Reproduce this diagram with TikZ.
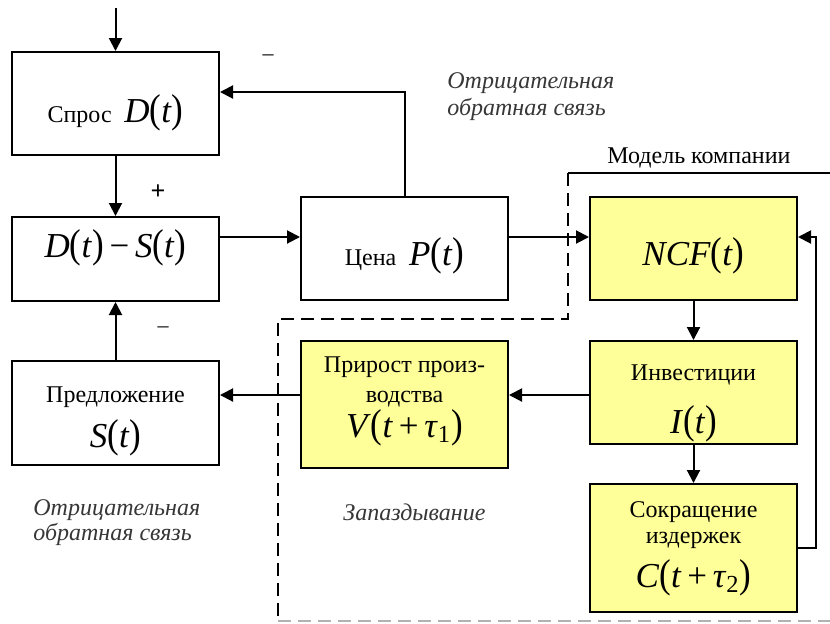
\documentclass[tikz,border=0pt]{standalone}
\usepackage{fontspec}
\setmainfont{Liberation Serif}
\usepackage{graphicx}
\usetikzlibrary{arrows.meta}
\definecolor{boxyellow}{RGB}{255,255,153}
\definecolor{labelgray}{RGB}{55,55,55}
\newcommand\mv[1]{\textit{#1}}
\newcommand\lp{\scalebox{1}[1.15]{(}}
\newcommand\rp{\scalebox{1}[1.15]{)}}
\newcommand\mt{\fontsize{17.5}{20}\selectfont}
\begin{document}
\begin{tikzpicture}[x=0.5pt,y=-0.5pt,
  box/.style={draw, line width=1pt, minimum width=103.5pt, inner sep=0pt},
  ybox/.style={box, fill=boxyellow},
  txt/.style={inner sep=0pt, font=\fontsize{12}{15}\selectfont},
  conn/.style={line width=1pt, -{Triangle[length=6.5pt,width=6.5pt]}},
  fb/.style={inner sep=0pt, anchor=base west, font=\fontsize{12}{15}\selectfont\itshape, text=labelgray},
  sign/.style={inner sep=0pt, font=\fontsize{11}{13}\selectfont},
  bound/.style={line width=0.8pt, dash pattern=on 6.5pt off 3.5pt}]
\useasboundingbox (0,0) rectangle (830,623);
% company boundary
\draw[line width=0.8pt] (568,173) -- (830,173);
\draw[bound] (568,173) -- (568,319) -- (278,319) -- (278,623);
\draw[bound, draw=gray!60] (278,621) -- (830,621);
% boxes
\node[box, minimum height=51.5pt] (spros) at (115.5,103.5) {};
\node[box, minimum height=42pt] (ds) at (115.5,259) {};
\node[box, minimum height=51.5pt] (price) at (404.5,248.5) {};
\node[ybox, minimum height=51.5pt] (ncf) at (693.5,248.5) {};
\node[ybox, minimum height=51.5pt] (invest) at (693.5,392.5) {};
\node[ybox, minimum height=63.5pt] (prirost) at (404.5,404.5) {};
\node[box, minimum height=52pt] (predl) at (115.5,413) {};
\node[ybox, minimum height=64pt] (cost) at (693.5,548) {};
% box texts
\node[txt, anchor=base] (sprosT) at (115.5,122) {Спрос\; {\mt\mv{D}\lp\mv{t}\rp}};
\node[txt, anchor=base] (dsT) at (115.5,257) {\mt\mv{D}\lp\mv{t}\rp\,−\,\mv{S}\lp\mv{t}\rp};
\node[txt, anchor=base] (priceT) at (404.5,265) {Цена\; {\mt\mv{P}\lp\mv{t}\rp}};
\node[txt, anchor=base] (ncfT) at (693.5,265) {\mt\mv{NCF}\lp\mv{t}\rp};
\node[txt, anchor=base] (investT1) at (693.5,380) {Инвестиции};
\node[txt, anchor=base] (investT2) at (693.5,433) {\mt\mv{I}\lp\mv{t}\rp};
\node[txt, anchor=base] (prirostT1) at (404.5,372) {Прирост произ-};
\node[txt, anchor=base] (prirostT2) at (404.5,402) {водства};
\node[txt, anchor=base] (prirostT3) at (404.5,437) {\mt\mv{V}\lp\mv{t}\,+\,\mv{τ}\textsubscript{1}\rp};
\node[txt, anchor=base] (predlT1) at (115.5,402) {Предложение};
\node[txt, anchor=base] (predlT2) at (115.5,447) {\mt\mv{S}\lp\mv{t}\rp};
\node[txt, anchor=base] (costT1) at (693.5,517) {Сокращение};
\node[txt, anchor=base] (costT2) at (693.5,543) {издержек};
\node[txt, anchor=base] (costT3) at (693.5,587) {\mt\mv{C}\lp\mv{t}\,+\,\mv{τ}\textsubscript{2}\rp};
% labels
\node[fb] (fbTop1) at (447,88) {Отрицательная};
\node[fb] (fbTop2) at (447,115) {обратная связь};
\node[fb] (fbBot1) at (33,515) {Отрицательная};
\node[fb] (fbBot2) at (33,540) {обратная связь};
\node[fb] (delay) at (343,520) {Запаздывание};
\node[txt, anchor=base west] (model) at (607,163) {Модель компании};
\node[sign] (minusTop) at (268,58) {–};
\node[sign, font=\fontsize{13}{15}\selectfont\bfseries] (plus) at (158,192) {+};
\node[sign] (minusBot) at (163,330) {–};
% connectors
\coordinate (topin) at (115.5,8);
\coordinate (yA) at (0,237);
\coordinate (yB) at (0,92);
\coordinate (yC) at (0,395);
\coordinate (xR) at (816,0);
\draw[conn] (topin) -- (spros.north);
\draw[conn] (spros) -- (ds);
\draw[conn] (predl) -- (ds);
\draw[conn] (ds.east |- yA) -- (price.west |- yA);
\draw[conn] (price.east |- yA) -- (ncf.west |- yA);
\draw[conn] (price.north) |- (spros.east |- yB);
\draw[conn] (cost.east) -- (cost.east -| xR) |- (ncf.east |- yA);
\draw[conn] (ncf) -- (invest);
\draw[conn] (invest) -- (cost);
\draw[conn] (invest.west |- yC) -- (prirost.east |- yC);
\draw[conn] (prirost.west |- yC) -- (predl.east |- yC);
\end{tikzpicture}
\end{document}
